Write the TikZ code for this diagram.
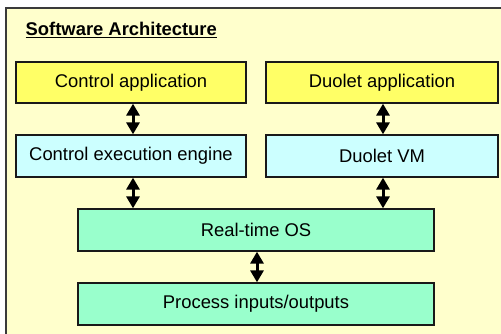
\documentclass[tikz,border=0pt]{standalone}
\usepackage{fontspec}
\setmainfont{Liberation Sans}
\usetikzlibrary{arrows.meta}
\definecolor{bgyel}{HTML}{FFFFCC}
\definecolor{boxyel}{HTML}{FFFF66}
\definecolor{boxcyan}{HTML}{CCFFFF}
\definecolor{boxgreen}{HTML}{99FFCC}
\definecolor{framegray}{HTML}{3A3A3A}
\tikzset{
  layerbox/.style={draw=black!90, line width=1.3pt, inner sep=0pt, anchor=center,
    font=\fontsize{18.4pt}{20pt}\selectfont},
  yelbox/.style={layerbox, fill=boxyel, minimum width=230pt, minimum height=41pt},
  cyanbox/.style={layerbox, fill=boxcyan, minimum width=230pt, minimum height=42pt},
  greenbox/.style={layerbox, fill=boxgreen, minimum width=356pt, minimum height=42pt},
  dblarrow/.style={line width=3pt, {Triangle[width=13pt,length=12pt]}-{Triangle[width=13pt,length=12pt]}},
}
\begin{document}
\begin{tikzpicture}[x=1pt,y=-1pt]
\useasboundingbox (0,0) rectangle (501,334);
\fill[white] (0,0) rectangle (501,334);
\clip (0,0) rectangle (501,334);
\draw[fill=bgyel, draw=framegray, line width=2pt] (6,8.5) rectangle (520,350);
\node[anchor=base west, inner sep=0pt, font=\fontsize{18.4pt}{20pt}\selectfont\bfseries] (title) at (25.5,36) {\underline{Software Architecture}};
\node[yelbox] (ca) at (131,82.5) {Control application};
\node[yelbox, minimum width=232pt] (da) at (382,82.5) {Duolet application};
\node[cyanbox] (ce) at (131,156) {Control execution engine};
\node[cyanbox, minimum width=232pt] (dv) at (382,156) {Duolet VM};
\node[greenbox] (os) at (256,230) {Real-time OS};
\node[greenbox] (pio) at (256,304) {Process inputs/outputs};
\draw[dblarrow] ([xshift=2pt]ca.south) -- ([xshift=2pt]ce.north);
\draw[dblarrow] ([xshift=1pt]da.south) -- ([xshift=1pt]dv.north);
\draw[dblarrow] ([xshift=2pt]ce.south) -- ([xshift=2pt]ce.south |- os.north);
\draw[dblarrow] ([xshift=1pt]dv.south) -- ([xshift=1pt]dv.south |- os.north);
\draw[dblarrow] ([xshift=1pt]os.south) -- ([xshift=1pt]pio.north);
\end{tikzpicture}
\end{document}
